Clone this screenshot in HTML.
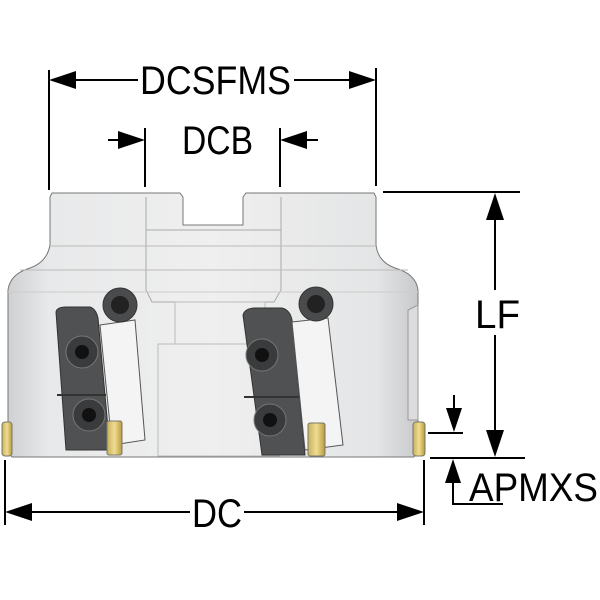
<!DOCTYPE html>
<html><head><style>html,body{margin:0;padding:0;background:#fff}svg{display:block}</style></head>
<body>
<svg width="600" height="600" viewBox="0 0 600 600" xmlns="http://www.w3.org/2000/svg" font-family="Liberation Sans, sans-serif">
<defs>
<linearGradient id="bg" x1="0" x2="1" y1="0" y2="0">
<stop offset="0" stop-color="#cfd0d2"/><stop offset="0.1" stop-color="#e8e9ea"/><stop offset="0.5" stop-color="#efefef"/><stop offset="0.9" stop-color="#e4e5e6"/><stop offset="1" stop-color="#c8c9cb"/>
</linearGradient>
<linearGradient id="gold" x1="0" x2="1"><stop offset="0" stop-color="#c8b060"/><stop offset="0.5" stop-color="#f0dc90"/><stop offset="1" stop-color="#b89a40"/></linearGradient>
</defs>
<path d="M52 193 H180 L183 197 V225 H243 V197 L246 193 H374 L376 197 V245 Q378 262 395 268 Q416 274 418 290 V452 L414 457 H12 L8 452 V290 Q10 274 30 268 Q47 262 50 245 V197 Z" fill="url(#bg)" stroke="#777" stroke-width="1"/>
<path d="M146 197 V290 L152 302 H274 L281 290 V197" fill="none" stroke="#aaa" stroke-width="1"/>
<line x1="146" y1="230" x2="281" y2="230" stroke="#aaa"/>
<line x1="50" y1="246" x2="376" y2="246" stroke="#bbb"/>
<line x1="20" y1="270" x2="408" y2="270" stroke="#bbb"/>
<line x1="8" y1="292" x2="418" y2="292" stroke="#ccc"/>
<rect x="175" y="302" width="90" height="42" fill="none" stroke="#bbb"/>
<rect x="158" y="344" width="122" height="112" fill="none" stroke="#bbb"/>
<!-- left pocket -->
<path d="M56 312 Q57 307 66 307 H90 Q96 309 98 318 L110 450 H66 Z" fill="#505153" stroke="#333"/>
<line x1="57" y1="395" x2="106" y2="395" stroke="#333" stroke-width="2"/>
<path d="M100 325 L135 320 L145 440 L112 445 Z" fill="#f4f4f4" stroke="#555"/>
<circle cx="120" cy="305" r="17" fill="#4a4b4d" stroke="#333"/><circle cx="120" cy="305" r="9" fill="#222"/>
<circle cx="82" cy="352" r="16" fill="#3a3b3d" stroke="#777"/><circle cx="82" cy="352" r="7" fill="#111"/>
<circle cx="89" cy="415" r="16" fill="#3a3b3d" stroke="#777"/><circle cx="89" cy="415" r="7" fill="#111"/>
<rect x="107" y="421" width="15" height="34" rx="2" fill="url(#gold)" stroke="#776"/>
<!-- right pocket -->
<path d="M243 315 Q245 308 256 308 H282 Q290 310 292 320 L305 455 H262 Z" fill="#505153" stroke="#333"/>
<line x1="244" y1="397" x2="300" y2="397" stroke="#333" stroke-width="2"/>
<path d="M292 322 L328 318 L343 445 L305 450 Z" fill="#f4f4f4" stroke="#555"/>
<circle cx="316" cy="304" r="17" fill="#4a4b4d" stroke="#333"/><circle cx="316" cy="304" r="9" fill="#222"/>
<circle cx="262" cy="355" r="16" fill="#3a3b3d" stroke="#777"/><circle cx="262" cy="355" r="7" fill="#111"/>
<circle cx="270" cy="420" r="16" fill="#3a3b3d" stroke="#777"/><circle cx="270" cy="420" r="7" fill="#111"/>
<rect x="308" y="423" width="17" height="33" rx="2" fill="url(#gold)" stroke="#776"/>
<rect x="413" y="422" width="12" height="34" rx="3" fill="url(#gold)" stroke="#776"/>
<rect x="2" y="422" width="10" height="34" rx="3" fill="url(#gold)" stroke="#776"/>
<path d="M408 310 L418 305 V420 H408 Z" fill="#dcdcdc" stroke="#999"/>
<g stroke="#000" stroke-width="2" fill="none">
<line x1="49" y1="70" x2="49" y2="190"/><line x1="376" y1="68" x2="376" y2="186"/>
<line x1="60" y1="80" x2="138" y2="80"/><line x1="294" y1="80" x2="365" y2="80"/>
<line x1="145" y1="128" x2="145" y2="187"/><line x1="280" y1="128" x2="280" y2="187"/>
<line x1="108" y1="140" x2="135" y2="140"/><line x1="290" y1="140" x2="318" y2="140"/>
<line x1="383" y1="192" x2="520" y2="192"/><line x1="495" y1="200" x2="495" y2="290"/><line x1="495" y1="335" x2="495" y2="450"/>
<line x1="430" y1="458" x2="525" y2="458"/>
<line x1="428" y1="433" x2="463" y2="433"/><line x1="454" y1="395" x2="454" y2="420"/>
<line x1="453" y1="470" x2="453" y2="505"/><line x1="452" y1="504" x2="503" y2="504"/>
<line x1="5" y1="460" x2="5" y2="525"/><line x1="424" y1="460" x2="424" y2="525"/>
<line x1="15" y1="512" x2="190" y2="512"/><line x1="244" y1="512" x2="412" y2="512"/>
</g>
<g fill="#000">
<polygon points="49,80 76,71 76,89"/><polygon points="376,80 349,71 349,89"/>
<polygon points="145,140 118,131 118,149"/><polygon points="280,140 307,131 307,149"/>
<polygon points="495,193 486,220 504,220"/><polygon points="495,457 486,430 504,430"/>
<polygon points="454,432 446,408 462,408"/><polygon points="453,459 445,483 461,483"/>
<polygon points="5,512 32,503 32,521"/><polygon points="424,512 397,503 397,521"/>
</g>
<g font-size="40" fill="#000">
<text x="140" y="94" textLength="151" lengthAdjust="spacingAndGlyphs">DCSFMS</text>
<text x="182" y="154" textLength="71" lengthAdjust="spacingAndGlyphs">DCB</text>
<text x="475" y="328" textLength="45" lengthAdjust="spacingAndGlyphs">LF</text>
<text x="469" y="501" textLength="129" lengthAdjust="spacingAndGlyphs">APMXS</text>
<text x="192" y="527" textLength="50" lengthAdjust="spacingAndGlyphs">DC</text>
</g>
</svg>
</body></html>
